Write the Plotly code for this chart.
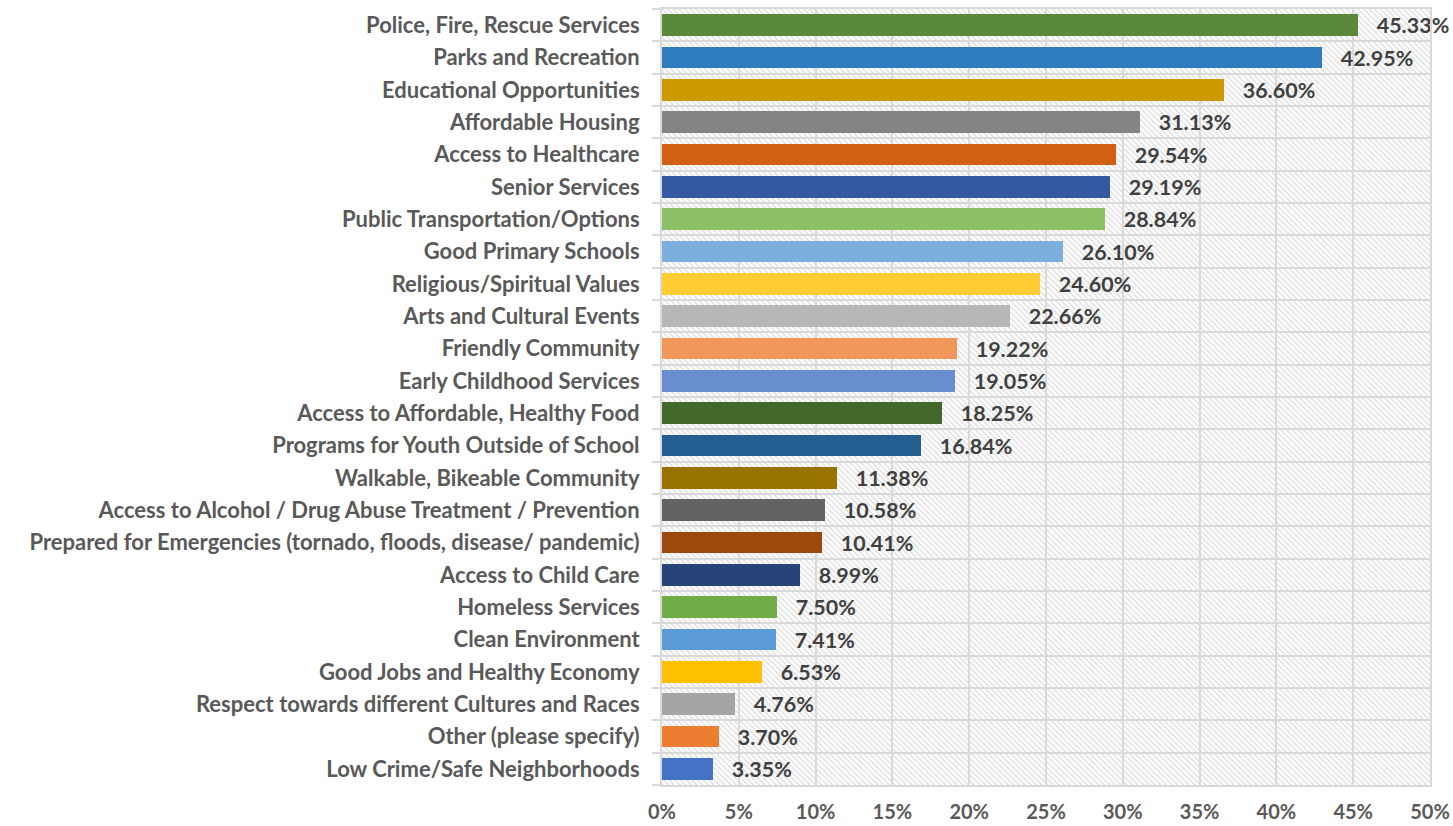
import plotly.graph_objects as go

# Survey responses, listed bottom-to-top as drawn on the category axis
categories = [
    "Low Crime/Safe Neighborhoods",
    "Other (please specify)",
    "Respect towards different Cultures and Races",
    "Good Jobs and Healthy Economy",
    "Clean Environment",
    "Homeless Services",
    "Access to Child Care",
    "Prepared for Emergencies (tornado, floods, disease/ pandemic)",
    "Access to Alcohol / Drug Abuse Treatment / Prevention",
    "Walkable, Bikeable Community",
    "Programs for Youth Outside of School",
    "Access to Affordable, Healthy Food",
    "Early Childhood Services",
    "Friendly Community",
    "Arts and Cultural Events",
    "Religious/Spiritual Values",
    "Good Primary Schools",
    "Public Transportation/Options",
    "Senior Services",
    "Access to Healthcare",
    "Affordable Housing",
    "Educational Opportunities",
    "Parks and Recreation",
    "Police, Fire, Rescue Services",
]

shares = [
    0.0335, 0.0370, 0.0476, 0.0653, 0.0741, 0.0750, 0.0899, 0.1041,
    0.1058, 0.1138, 0.1684, 0.1825, 0.1905, 0.1922, 0.2266, 0.2460,
    0.2610, 0.2884, 0.2919, 0.2954, 0.3113, 0.3660, 0.4295, 0.4533,
]

bar_colors = [
    "#4472C4", "#ED7D31", "#A5A5A5", "#FFC000", "#5B9BD5", "#70AD47",
    "#264478", "#9E480E", "#636363", "#997300", "#255E91", "#43682B",
    "#698ED0", "#F1975A", "#B7B7B7", "#FFCD33", "#7CAFDD", "#8CC168",
    "#335AA1", "#D26012", "#848484", "#CC9A00", "#307CC0", "#5A8A39",
]

x_ticks = [0, 0.05, 0.10, 0.15, 0.20, 0.25, 0.30, 0.35, 0.40, 0.45, 0.50]
axis_max = 0.50

FONT = "Lato"
FONT_SIZE = 22
label_gray = "#595959"
value_gray = "#404040"
grid_gray = "#D9D9D9"

fig = go.Figure()

# Diagonal hatch filling the whole plotting area
fig.add_trace(go.Bar(
    y=categories,
    x=[axis_max] * len(categories),
    orientation="h",
    width=1,
    marker=dict(
        color="rgba(0,0,0,0)",
        line=dict(width=0),
        pattern=dict(shape="\\", fgcolor=grid_gray, size=4, solidity=0.3,
                     fillmode="replace"),
    ),
    hoverinfo="skip",
    showlegend=False,
))

fig.add_trace(go.Bar(
    y=categories,
    x=shares,
    orientation="h",
    width=0.68,
    marker=dict(color=bar_colors, line=dict(width=0)),
    text=[f"{v * 100:.2f}%" for v in shares],
    textposition="outside",
    constraintext="none",
    textfont=dict(family=FONT, size=21.5, color=value_gray, weight="bold"),
    texttemplate="   %{text}",
    cliponaxis=False,
    showlegend=False,
))

fig.update_layout(
    width=1453,
    height=826,
    barmode="overlay",
    bargap=0,
    plot_bgcolor="white",
    paper_bgcolor="white",
    margin=dict(l=662, r=23, t=9, b=41),
    font=dict(family=FONT, size=FONT_SIZE, color=label_gray),
)

fig.update_xaxes(
    range=[0, axis_max],
    tickvals=x_ticks,
    tickformat=".0%",
    tickfont=dict(family=FONT, size=20, color=label_gray, weight="bold"),
    showgrid=True,
    gridcolor=grid_gray,
    gridwidth=2,
    showline=True,
    linecolor=grid_gray,
    linewidth=2,
    mirror=True,
    zeroline=False,
    ticks="",
    ticklabelstandoff=8,
    automargin=False,
    fixedrange=True,
)

fig.update_yaxes(
    type="category",
    categoryorder="array",
    categoryarray=categories,
    tickson="boundaries",
    ticks="outside",
    ticklen=8,
    tickwidth=2,
    tickcolor=grid_gray,
    tickfont=dict(family=FONT, size=FONT_SIZE, color=label_gray, weight="bold"),
    showgrid=True,
    gridcolor=grid_gray,
    gridwidth=2,
    showline=True,
    linecolor=grid_gray,
    linewidth=2,
    mirror=True,
    ticklabelstandoff=16,
    automargin=False,
    fixedrange=True,
)

fig.write_html("out.html")
